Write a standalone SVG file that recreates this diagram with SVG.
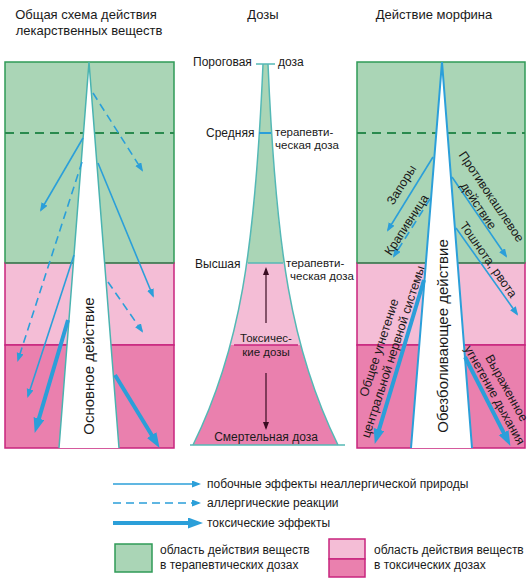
<svg xmlns="http://www.w3.org/2000/svg" width="531" height="581" viewBox="0 0 531 581">
<style>
text{font-family:"Liberation Sans",Arial,sans-serif;fill:#1a1a1a}
.h{font-size:13px;text-anchor:middle}
.m{font-size:12px}
.s{font-size:11.5px}
.r{font-size:12.5px;text-anchor:middle}
.big{font-size:15px;text-anchor:middle}
.g{fill:#aad5b6;stroke:#2f9a57;stroke-width:1.5}
.p1{fill:#f4bdd6;stroke:#c8257e;stroke-width:1.5}
.p2{fill:#ea80ae;stroke:#c8257e;stroke-width:1.5}
.dl{stroke:#2a8a4e;stroke-width:2;stroke-dasharray:9 6;fill:none}
.thin{stroke:#2b9fd9;stroke-width:1.6;fill:none;marker-end:url(#ah)}
.dash{stroke:#2b9fd9;stroke-width:1.6;fill:none;stroke-dasharray:8 5;marker-end:url(#ah)}
.thick{stroke:#2b9fd9;stroke-width:4;fill:none;marker-end:url(#ahb)}
.dk{stroke:#3a0c22;stroke-width:1.2;fill:none;marker-end:url(#ahd)}
</style>
<defs>
<marker id="ah" markerUnits="userSpaceOnUse" markerWidth="9" markerHeight="8" refX="7" refY="3.5" orient="auto"><path d="M0,0 L9,3.5 L0,7 z" fill="#2b9fd9"/></marker>
<marker id="ahb" markerUnits="userSpaceOnUse" markerWidth="15" markerHeight="12" refX="4" refY="5.5" orient="auto"><path d="M0,0 L15,5.5 L0,11 z" fill="#2b9fd9"/></marker>
<marker id="ahd" markerUnits="userSpaceOnUse" markerWidth="8" markerHeight="8" refX="6" refY="3" orient="auto"><path d="M0,0 L8,3 L0,6 z" fill="#3a0c22"/></marker>
<clipPath id="pyr"><path d="M263,64 C255,250 240,350 193,445 L338,445 C291,350 276,250 268,64 Z"/></clipPath>
</defs>

<g id="headers">
<text class="h" x="86" y="19">Общая схема действия</text>
<text class="h" x="89" y="35">лекарственных веществ</text>
<text class="h" x="263" y="19">Дозы</text>
<text class="h" x="434" y="19">Действие морфина</text>
</g>

<g id="left-panel">
<rect class="g" x="5" y="62" width="169" height="201"/>
<rect class="p1" x="5" y="263" width="169" height="82"/>
<rect class="p2" x="5" y="345" width="169" height="103"/>
<line x1="5" y1="263" x2="174" y2="263" stroke="#2f9a57" stroke-width="1.5"/>
<line class="dl" x1="5" y1="133" x2="174" y2="133"/>
<polygon points="89,62 59,448 119,448" fill="#fff"/>
<polyline points="59,448 89,62 119,448" fill="none" stroke="#4ab3b0" stroke-width="1.5"/>
<text class="big" transform="translate(94,366) rotate(-90)">Основное действие</text>
</g>

<g id="left-connectors">
<line class="dash" x1="93" y1="93" x2="142" y2="170"/>
<line class="thin" x1="83" y1="138" x2="41" y2="210"/>
<line class="dash" x1="82" y1="162" x2="18" y2="360"/>
<line class="thin" x1="98" y1="163" x2="153" y2="296"/>
<line class="dash" x1="108" y1="282" x2="142" y2="331"/>
<line class="thin" x1="74" y1="255" x2="28" y2="396"/>
<line class="thick" x1="68" y1="320" x2="37.8" y2="422.4"/>
<line class="thick" x1="115" y1="375" x2="153.8" y2="438.5"/>
</g>

<g id="middle-panel">
<g clip-path="url(#pyr)">
<rect x="180" y="60" width="170" height="203" fill="#aad5b6"/>
<rect x="180" y="263" width="170" height="82" fill="#f4bdd6"/>
<rect x="180" y="345" width="170" height="102" fill="#ea80ae"/>
</g>
<path d="M263,64 C255,250 240,350 193,445 M338,445 C291,350 276,250 268,64" fill="none" stroke="#54b8b5" stroke-width="1.5"/>
<line x1="190" y1="445" x2="345" y2="445" stroke="#54b8b5" stroke-width="1.5"/>
<line x1="248" y1="263" x2="283" y2="263" stroke="#54b8b5" stroke-width="1.5"/>
<line x1="234" y1="345" x2="298" y2="345" stroke="#c8257e" stroke-width="1.5"/>
<line x1="256" y1="64" x2="275" y2="64" stroke="#54b8b5" stroke-width="1.5"/>
<line x1="259" y1="133" x2="271" y2="133" stroke="#2b9fd9" stroke-width="2"/>
<line class="dk" x1="266" y1="323" x2="266" y2="269"/>
<line class="dk" x1="266" y1="373" x2="266" y2="428"/>
<text class="m" x="193" y="66">Пороговая</text>
<text class="m" x="278" y="66">доза</text>
<text class="m" x="206" y="137">Средняя</text>
<text class="s" x="275" y="136">терапевти-</text>
<text class="s" x="275" y="149">ческая доза</text>
<text class="m" x="195" y="268">Высшая</text>
<text class="s" x="286" y="267">терапевти-</text>
<text class="s" x="290" y="280">ческая доза</text>
<text class="s" x="266" y="342" text-anchor="middle">Токсичес-</text>
<text class="s" x="266" y="356" text-anchor="middle">кие дозы</text>
<text class="m" x="266" y="441" text-anchor="middle">Смертельная доза</text>
</g>

<g id="right-panel">
<rect class="g" x="357" y="62" width="168" height="201"/>
<rect class="p1" x="357" y="263" width="168" height="82"/>
<rect class="p2" x="357" y="345" width="168" height="103"/>
<line x1="357" y1="263" x2="525" y2="263" stroke="#2f9a57" stroke-width="1.5"/>
<line class="dl" x1="357" y1="133" x2="525" y2="133"/>
<polygon points="442,62 411,448 472,448" fill="#fff"/>
<polyline points="411,448 442,62 472,448" fill="none" stroke="#2b9fd9" stroke-width="2"/>
<text class="big" transform="translate(448,336) rotate(-90)">Обезболивающее действие</text>
</g>

<g id="right-connectors">
<line class="thin" x1="433" y1="157" x2="388" y2="230"/>
<line class="dash" x1="430" y1="199" x2="394" y2="256"/>
<line class="thin" x1="452" y1="177" x2="506" y2="256"/>
<line class="thin" x1="456" y1="228" x2="517" y2="314"/>
<line class="thick" x1="424" y1="280" x2="377.9" y2="433.4"/>
<line class="thick" x1="465" y1="357" x2="505.4" y2="436.1"/>
</g>

<g id="right-labels">
<text class="r" transform="translate(405,187) rotate(-58)">Запоры</text>
<text class="r" transform="translate(410,227) rotate(-57)">Крапивница</text>
<text class="r" transform="translate(488,199) rotate(56)">Противокашлевое</text>
<text class="r" transform="translate(475,208) rotate(56)">действие</text>
<text class="r" transform="translate(485,262) rotate(55)">Тошнота, рвота</text>
<text class="r" transform="translate(383,349) rotate(-72)">Общее угнетение</text>
<text class="r" transform="translate(397,353) rotate(-72)">центральной нервной системы</text>
<text class="r" transform="translate(503,390) rotate(61)">Выраженное</text>
<text class="r" transform="translate(491,397) rotate(61)">угнетение дыхания</text>
</g>

<g id="legend">
<line class="thin" x1="113" y1="484" x2="199" y2="484"/>
<text class="m" x="207" y="488">побочные эффекты неаллергической природы</text>
<line class="dash" x1="113" y1="503" x2="199" y2="503"/>
<text class="m" x="207" y="507">аллергические реакции</text>
<line class="thick" x1="113" y1="523" x2="192" y2="523"/>
<text class="m" x="207" y="527">токсические эффекты</text>
<rect class="g" x="115" y="544" width="37" height="28"/>
<text class="m" x="160" y="554">область действия веществ</text>
<text class="m" x="160" y="569">в терапевтических дозах</text>
<rect class="p1" x="329" y="539" width="36" height="20"/>
<rect class="p2" x="329" y="559" width="36" height="18"/>
<text class="m" x="374" y="554">область действия веществ</text>
<text class="m" x="374" y="569">в токсических дозах</text>
</g>
</svg>
